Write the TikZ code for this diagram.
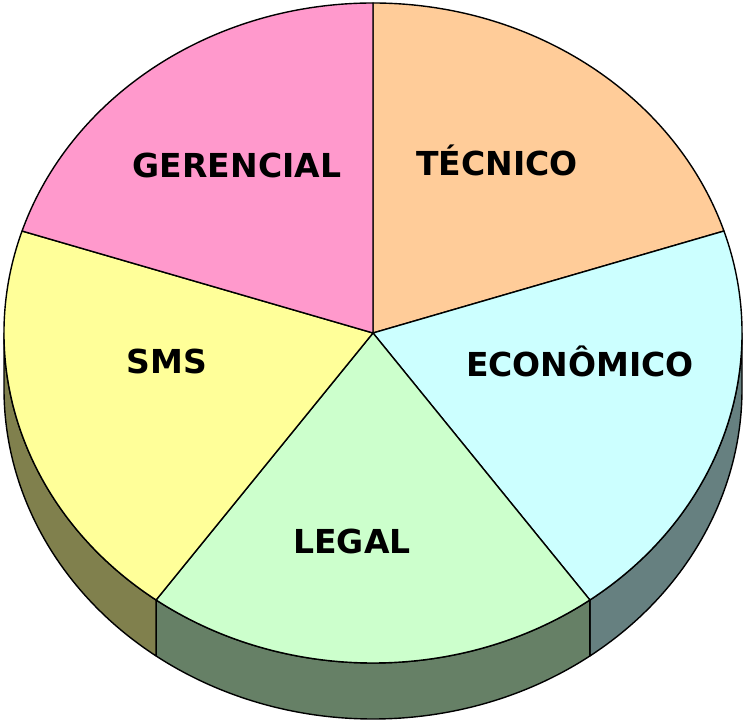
\documentclass[tikz,border=0pt]{standalone}
\usepackage{fontspec}
\setmainfont{DejaVu Sans}
\definecolor{cTec}{HTML}{FFCC99}
\definecolor{cEco}{HTML}{CCFFFF}
\definecolor{cLeg}{HTML}{CCFFCC}
\definecolor{cSms}{HTML}{FFFF99}
\definecolor{cGer}{HTML}{FF99CC}
\definecolor{sEco}{HTML}{668080}
\definecolor{sLeg}{HTML}{668066}
\definecolor{sSms}{HTML}{80804D}
\tikzset{
  edge/.style={draw=black, line width=1.4pt, line join=round},
  lbl/.style={font=\fontsize{33}{37}\selectfont\bfseries, text=black, inner sep=0pt}
}
\begin{document}
\begin{tikzpicture}[x=1pt,y=1pt]
\useasboundingbox (0,0) rectangle (749,723);
\coordinate (c) at (373,390);
% sides
\filldraw[edge, fill=sEco] (c) ++(0:369pt and 330pt) arc[start angle=0, end angle=-54, x radius=369pt, y radius=330pt] -- ++(0,-56) arc[start angle=-54, end angle=0, x radius=369pt, y radius=330pt] -- cycle;
\filldraw[edge, fill=sLeg] (c) ++(-54:369pt and 330pt) arc[start angle=-54, end angle=-126, x radius=369pt, y radius=330pt] -- ++(0,-56) arc[start angle=-126, end angle=-54, x radius=369pt, y radius=330pt] -- cycle;
\filldraw[edge, fill=sSms] (c) ++(-126:369pt and 330pt) arc[start angle=-126, end angle=-180, x radius=369pt, y radius=330pt] -- ++(0,-56) arc[start angle=-180, end angle=-126, x radius=369pt, y radius=330pt] -- cycle;
% top face
\filldraw[edge, fill=cTec] (c) -- ++(90:369pt and 330pt) arc[start angle=90, end angle=18, x radius=369pt, y radius=330pt] -- cycle;
\filldraw[edge, fill=cEco] (c) -- ++(18:369pt and 330pt) arc[start angle=18, end angle=-54, x radius=369pt, y radius=330pt] -- cycle;
\filldraw[edge, fill=cLeg] (c) -- ++(-54:369pt and 330pt) arc[start angle=-54, end angle=-126, x radius=369pt, y radius=330pt] -- cycle;
\filldraw[edge, fill=cSms] (c) -- ++(-126:369pt and 330pt) arc[start angle=-126, end angle=-198, x radius=369pt, y radius=330pt] -- cycle;
\filldraw[edge, fill=cGer] (c) -- ++(162:369pt and 330pt) arc[start angle=162, end angle=90, x radius=369pt, y radius=330pt] -- cycle;
% labels
\node[lbl] (ger) at (237,558) {GERENCIAL};
\node[lbl] (tec) at (497,563) {TÉCNICO};
\node[lbl] (eco) at (580,362) {ECONÔMICO};
\node[lbl] (sms) at (167,362) {SMS};
\node[lbl] (leg) at (352,182) {LEGAL};
\end{tikzpicture}
\end{document}
